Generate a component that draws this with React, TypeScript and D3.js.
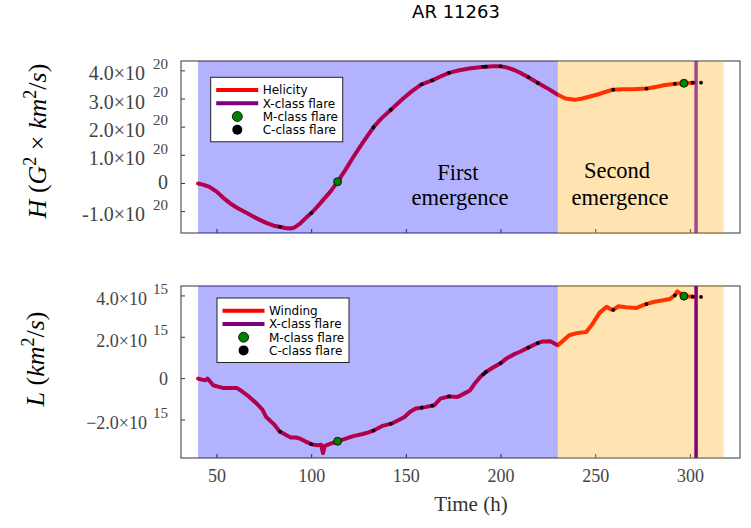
import * as d3 from 'd3';

// Helicity H (units of 1e20 G^2 km^2/s) vs time (h)
const timeH = [40, 43, 46, 50, 54, 57, 61, 66, 71, 76, 80, 83, 86, 89, 91, 94, 97, 100, 103, 106, 110, 114, 118, 122, 127, 133, 137, 142, 148, 153, 158, 164, 168, 172.5, 178, 184, 190, 196, 200, 203, 207, 211, 214.5, 219.5, 225, 230, 234, 239, 243, 247, 251, 254, 259, 264, 270, 277, 281, 286, 292, 296.6, 302];
const helicity = [0, -0.05, -0.12, -0.3, -0.55, -0.71, -0.88, -1.06, -1.24, -1.4, -1.5, -1.54, -1.58, -1.6, -1.56, -1.42, -1.22, -1.04, -0.82, -0.59, -0.28, 0.09, 0.5, 0.94, 1.45, 2.03, 2.32, 2.63, 3.0, 3.28, 3.52, 3.67, 3.8, 3.93, 4.02, 4.09, 4.14, 4.16, 4.16, 4.12, 4.03, 3.9, 3.77, 3.57, 3.36, 3.15, 3.02, 2.97, 3.02, 3.09, 3.16, 3.23, 3.33, 3.35, 3.35, 3.37, 3.42, 3.49, 3.54, 3.56, 3.58];

// Winding L (units of 1e15 km^2/s) vs time (h)
const timeL = [40, 42, 44, 45, 46, 48, 51, 53, 57, 60.4, 63, 66, 69, 71, 74, 76, 80, 83, 86, 89, 92, 94, 97, 100, 103, 105, 106, 107, 110, 114, 118, 122, 127, 130, 133, 137, 142, 146, 149, 152, 155, 160, 164.7, 168, 172.5, 177, 180, 183.6, 186, 189, 192, 196, 200, 203, 206.5, 210, 214.4, 219.4, 222, 226, 230, 233, 236, 240, 245, 248, 252, 255.7, 259, 262, 266, 271.6, 276.5, 281, 285.7, 289, 291.8, 293.1, 296.6, 300.6, 302];
const winding = [0, -0.05, -0.08, 0, -0.1, -0.32, -0.4, -0.45, -0.45, -0.45, -0.6, -0.81, -1.05, -1.21, -1.5, -1.86, -2.2, -2.55, -2.7, -2.85, -2.85, -2.91, -3.05, -3.18, -3.22, -3.2, -3.6, -3.25, -3.15, -3.02, -2.9, -2.78, -2.68, -2.6, -2.5, -2.3, -2.18, -2.0, -1.86, -1.6, -1.45, -1.38, -1.29, -0.97, -0.86, -0.89, -0.75, -0.57, -0.25, 0.08, 0.32, 0.55, 0.76, 0.98, 1.16, 1.3, 1.5, 1.72, 1.8, 1.81, 1.61, 1.85, 2.1, 2.2, 2.26, 2.6, 3.18, 3.47, 3.31, 3.5, 3.45, 3.42, 3.6, 3.72, 3.79, 3.85, 4.03, 4.22, 3.99, 3.97, 3.95];

// flare times (h)
const cFlares = [83.3, 99.8, 132.6, 141.8, 158.1, 163.7, 172.5, 190.6, 192, 199.8, 214.4, 219.4, 259.3, 276.8, 291.8, 301.2, 305.6];
const mFlares = [113.7, 296.6];
const xFlare = 303;

// emergence phases (h)
const firstPhase = [40, 230];
const secondPhase = [230, 317.5];

const xTicks = [50, 100, 150, 200, 250, 300];
const hTicks = [-1, 0, 1, 2, 3, 4];
const lTicks = [-2, 0, 2, 4];

const W = 751;
const H = 528;
const left = 181;
const right = 740;

const x = d3.scaleLinear().domain([31, 326.2]).range([left, right]);

const serif = '"Liberation Serif", "Times New Roman", serif';
const sans = '"DejaVu Sans", sans-serif';

function valueAt(ts: number[], vs: number[], t: number) {
  const interp = d3.scaleLinear().domain(ts).range(vs).clamp(true);
  return interp(t);
}

interface PanelProps {
  top: number;
  bottom: number;
  domain: [number, number];
  ts: number[];
  vs: number[];
  ticks: number[];
  exponent: string;
  minus: string;
  tickFont: number;
  mantEnd: number;
  legendX: number;
  legendY: number;
  seriesName: string;
  xLineOpacity: number;
  showXLabels: boolean;
}

function Panel(p: PanelProps) {
  const y = d3.scaleLinear().domain(p.domain).range([p.bottom, p.top]);
  const line = d3.line<number>().x((_, i) => x(p.ts[i])).y((v) => y(v));
  const path = line(p.vs) || '';
  const rowGap = 13.2;
  return (
    <g>
      <rect x={left} y={p.top} width={right - left} height={p.bottom - p.top} fill="#fff" />
      {/* ticks */}
      {xTicks.map((t) => (
        <line key={t} x1={x(t)} x2={x(t)} y1={p.bottom} y2={p.bottom - 4} stroke="#333" strokeWidth={1} />
      ))}
      {p.ticks.map((t) => (
        <line key={t} x1={left} x2={left + 4} y1={y(t)} y2={y(t)} stroke="#333" strokeWidth={1} />
      ))}
      <rect x={left} y={p.top} width={right - left} height={p.bottom - p.top} fill="none" stroke="#555" strokeWidth={1.2} />
      <path d={path} fill="none" stroke="#ff0000" strokeWidth={4} strokeLinejoin="round" strokeLinecap="round" />
      {/* emergence phases */}
      <rect x={x(firstPhase[0])} y={p.top} width={x(firstPhase[1]) - x(firstPhase[0])} height={p.bottom - p.top} fill="#0000ff" fillOpacity={0.3} />
      <rect x={x(secondPhase[0])} y={p.top} width={x(secondPhase[1]) - x(secondPhase[0])} height={p.bottom - p.top} fill="#ffa500" fillOpacity={0.3} />
      <line x1={x(xFlare)} x2={x(xFlare)} y1={p.top} y2={p.bottom} stroke="#800080" strokeWidth={3.5} strokeOpacity={p.xLineOpacity} />
      {cFlares.map((t, i) => (
        <circle key={i} cx={x(t)} cy={y(valueAt(p.ts, p.vs, t))} r={1.9} fill="#000" />
      ))}
      {mFlares.map((t, i) => (
        <circle key={i} cx={x(t)} cy={y(valueAt(p.ts, p.vs, t))} r={4} fill="#008000" stroke="#000" strokeWidth={0.8} />
      ))}
      {/* y tick labels */}
      {p.ticks.map((t) => {
        if (t === 0) {
          return (
            <text key={t} x={168} y={y(t) + 6} textAnchor="end" fontFamily={serif} fontSize={p.tickFont} fill="#444">0</text>
          );
        }
        const mant = (t < 0 ? p.minus : '') + Math.abs(t).toFixed(1) + '×10';
        return (
          <g key={t}>
            <text x={p.mantEnd} y={y(t) + 9.5} textAnchor="end" fontFamily={serif} fontSize={p.tickFont} fill="#444">{mant}</text>
            <text x={168} y={y(t) - 1.8} textAnchor="end" fontFamily={serif} fontSize={15} fill="#444">{p.exponent}</text>
          </g>
        );
      })}
      {p.showXLabels &&
        xTicks.map((t) => (
          <text key={t} x={x(t)} y={482} textAnchor="middle" fontFamily={serif} fontSize={18} fill="#444">{t}</text>
        ))}
      {/* legend */}
      <g transform={`translate(${p.legendX},${p.legendY})`} fontFamily={sans} fontSize={12}>
        <rect x={0} y={0} width={132} height={64.5} fill="#fff" stroke="#222" strokeWidth={1} />
        <line x1={5.5} x2={47.5} y1={12.8} y2={12.8} stroke="#ff0000" strokeWidth={4} />
        <line x1={5.5} x2={47.5} y1={12.8 + rowGap} y2={12.8 + rowGap} stroke="#800080" strokeWidth={4} />
        <circle cx={26.6} cy={12.8 + 2 * rowGap} r={5} fill="#008000" stroke="#000" strokeWidth={0.8} />
        <circle cx={26.6} cy={12.8 + 3 * rowGap} r={5} fill="#000" />
        {[p.seriesName, 'X-class flare', 'M-class flare', 'C-class flare'].map((s, i) => (
          <text key={s} x={52} y={12.8 + i * rowGap + 4.3} fill="#000">{s}</text>
        ))}
      </g>
    </g>
  );
}

export default function App() {
  return (
    <svg width={W} height={H} style={{ position: 'absolute', left: 0, top: 0, background: '#fff' }}>
      <text x={456} y={18} textAnchor="middle" fontFamily={sans} fontSize={18} fill="#000">AR 11263</text>
      <Panel
        top={61}
        bottom={233}
        domain={[-1.76, 4.35]}
        ts={timeH}
        vs={helicity}
        ticks={hTicks}
        exponent="20"
        minus="-"
        tickFont={20}
        mantEnd={145}
        legendX={210.7}
        legendY={77.3}
        seriesName="Helicity"
        xLineOpacity={0.7}
        showXLabels={false}
      />
      <Panel
        top={286}
        bottom={458}
        domain={[-3.84, 4.48]}
        ts={timeL}
        vs={winding}
        ticks={lTicks}
        exponent="15"
        minus="−"
        tickFont={18}
        mantEnd={147}
        legendX={217}
        legendY={298}
        seriesName="Winding"
        xLineOpacity={1}
        showXLabels={true}
      />
      {/* phase annotations */}
      <g fontFamily={serif} fontSize={22.5} fill="#000" textAnchor="middle">
        <text x={458} y={180}>First</text>
        <text x={460} y={205}>emergence</text>
        <text x={617} y={178}>Second</text>
        <text x={620} y={205}>emergence</text>
      </g>
      {/* axis titles */}
      <text transform="translate(46,141) rotate(-90)" textAnchor="middle" fontFamily={serif} fontSize={26} fill="#000">
        <tspan fontStyle="italic">H</tspan>
        <tspan> (</tspan>
        <tspan fontStyle="italic">G</tspan>
        <tspan fontSize={18} dy={-10}>2</tspan>
        <tspan dy={10}> × </tspan>
        <tspan fontStyle="italic">km</tspan>
        <tspan fontSize={18} dy={-10}>2</tspan>
        <tspan dy={10}>/</tspan>
        <tspan fontStyle="italic">s</tspan>
        <tspan>)</tspan>
      </text>
      <text transform="translate(44,359) rotate(-90)" textAnchor="middle" fontFamily={serif} fontSize={26} fill="#000">
        <tspan fontStyle="italic">L</tspan>
        <tspan> (</tspan>
        <tspan fontStyle="italic">km</tspan>
        <tspan fontSize={18} dy={-10}>2</tspan>
        <tspan dy={10}>/</tspan>
        <tspan fontStyle="italic">s</tspan>
        <tspan>)</tspan>
      </text>
      <text x={471} y={511} textAnchor="middle" fontFamily={serif} fontSize={21} fill="#333">Time (h)</text>
    </svg>
  );
}
